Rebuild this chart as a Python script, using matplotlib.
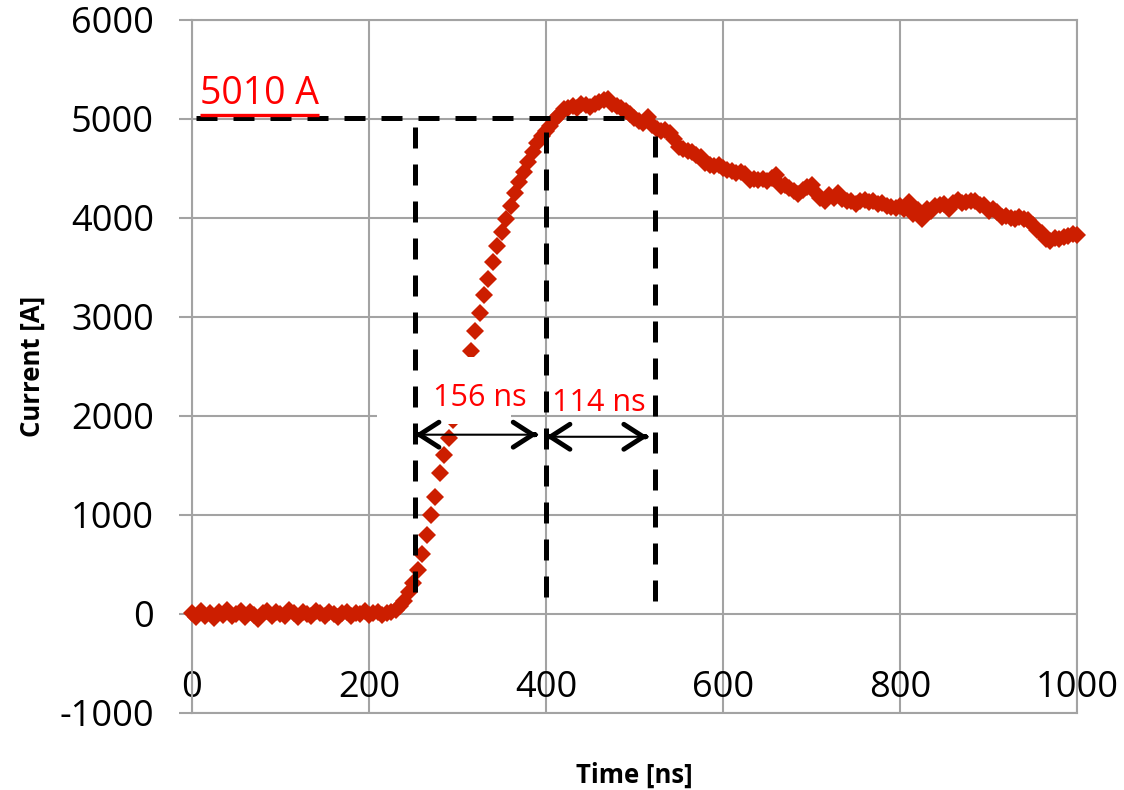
import numpy as np
import matplotlib.pyplot as plt
from matplotlib.patches import Rectangle

plt.rcParams['font.family'] = ['Open Sans', 'DejaVu Sans']
plt.rcParams['axes.unicode_minus'] = False

# time base (ns), one sample every 5 ns
t_ns = np.arange(0, 1001, 5)
current_a = [
    10, -30, 30, -20, 10, -40, 20, -10, 40, -20,
    0, 30, -30, 20, -10, -50, 10, 30, -20, 20,
    0, -20, 40, 10, -30, 20, 0, -20, 30, 10,
    -20, 20, 0, -30, 10, 20, -20, 10, 0, 30,
    -10, 10, 20, -10, 10, 20, 40, 80, 130, 220,
    310, 440, 610, 800, 1000, 1180, 1420, 1610, 1780, 1960,
    2150, 2330, 2500, 2660, 2860, 3040, 3220, 3380, 3560, 3720,
    3860, 3990, 4120, 4250, 4360, 4460, 4570, 4670, 4760, 4830,
    4880, 4930, 5000, 5040, 5100, 5110, 5130, 5110, 5150, 5140,
    5120, 5150, 5170, 5190, 5200, 5150, 5130, 5110, 5080, 5050,
    5010, 4980, 4960, 5020, 4940, 4900, 4880, 4890, 4860, 4800,
    4720, 4700, 4680, 4670, 4640, 4620, 4560, 4540, 4530, 4540,
    4500, 4480, 4470, 4450, 4460, 4440, 4380, 4390, 4380, 4390,
    4370, 4400, 4430, 4320, 4330, 4300, 4270, 4240, 4280, 4310,
    4330, 4250, 4200, 4170, 4230, 4200, 4250, 4190, 4170, 4170,
    4140, 4170, 4180, 4160, 4170, 4140, 4150, 4120, 4110, 4100,
    4120, 4090, 4160, 4040, 4080, 3990, 4090, 4070, 4120, 4130,
    4140, 4090, 4150, 4180, 4150, 4160, 4170, 4170, 4130, 4130,
    4070, 4090, 4060, 4010, 4020, 4000, 3990, 4010, 3990, 3980,
    3930, 3880, 3850, 3790, 3770, 3800, 3790, 3810, 3820, 3840,
    3830,
]

peak_a = 5010
t_marks = [252, 400, 523]          # vertical guide lines (ns)
t_marks_top = [4950, 4900, 4930]
t_marks_bot = [220, 170, 130]
h_line_end = 503
rise_label, fall_label = '156 ns', '114 ns'

red = '#CC1E00'
grid_c = '#A3A3A3'

fig = plt.figure(figsize=(11.24, 7.9), dpi=100)
ax = fig.add_axes([0.1708, 0.0975, 0.9582 - 0.1708, 0.9747 - 0.0975])

ax.plot(t_ns, current_a, linestyle='none', marker='D', markersize=9.5,
        color=red, markeredgewidth=0, zorder=3, clip_on=False)

ax.set_xlim(0, 1000)
ax.set_ylim(-1000, 6000)
ax.set_xticks(range(0, 1001, 200))
ax.set_yticks(range(-1000, 6001, 1000))
ax.grid(True, color=grid_c, linewidth=1.5)
ax.set_axisbelow(True)
for s in ax.spines.values():
    s.set_color(grid_c)
    s.set_linewidth(1.5)

ax.tick_params(axis='y', length=9.5, width=1.5, color=grid_c, labelsize=26, pad=18)
ax.tick_params(axis='x', length=0, labelsize=26, pad=-31)

ax.set_xlabel('Time [ns]', fontsize=18.5, fontweight='bold')
ax.xaxis.set_label_coords(0.5, -0.07)
ax.set_ylabel('Current [A]', fontsize=18.5, fontweight='bold')
ax.yaxis.set_label_coords(-0.165, 0.5)

# white label box hiding part of the curve
ax.add_patch(Rectangle((209, 1921), 152, 675, facecolor='white',
                       edgecolor='none', zorder=4))

# dashed guide lines
dash = dict(color='black', linewidth=3.6, linestyle=(0, (4.2, 3.2)), zorder=5)
ax.hlines(peak_a, 5, h_line_end, **dash)
for tx, top, bot in zip(t_marks, t_marks_top, t_marks_bot):
    ax.vlines(tx, bot, top, **dash)


def dim_arrow(x0, x1, y):
    ax.annotate('', xy=(x1, y), xytext=(x0, y),
                arrowprops=dict(arrowstyle='-', lw=1.5, color='black',
                                shrinkA=0, shrinkB=0), zorder=6)
    for tip, off in ((x1, -2), (x0, 2)):
        ax.annotate('', xy=(tip, y), xytext=(off, 0), textcoords='offset points',
                    arrowprops=dict(arrowstyle='->,head_length=0.7,head_width=0.45',
                                    lw=3.5, color='black', shrinkA=0, shrinkB=0,
                                    mutation_scale=20), zorder=6)


dim_arrow(252, 390, 1811)
dim_arrow(400, 515, 1790)

ax.text(325, 2096, rise_label, color='#FF0000', fontsize=22, ha='center',
        va='baseline', zorder=7)
ax.text(460, 2046, fall_label, color='#FF0000', fontsize=22, ha='center',
        va='baseline', zorder=7)
peak_txt = ax.text(9, 5150, '%d A' % peak_a, color='#FF0000',
                   fontsize=27, ha='left', va='baseline', zorder=7)

# underline the peak label, using the drawn text extent
fig.canvas.draw()
bb = peak_txt.get_window_extent().transformed(ax.transAxes.inverted())
ax.plot([bb.x0, bb.x1], [bb.y0 - 0.002, bb.y0 - 0.002], color='#FF0000',
        linewidth=2.4, transform=ax.transAxes, clip_on=False, zorder=7,
        solid_capstyle='butt')

plt.savefig('out.png', dpi=100)
